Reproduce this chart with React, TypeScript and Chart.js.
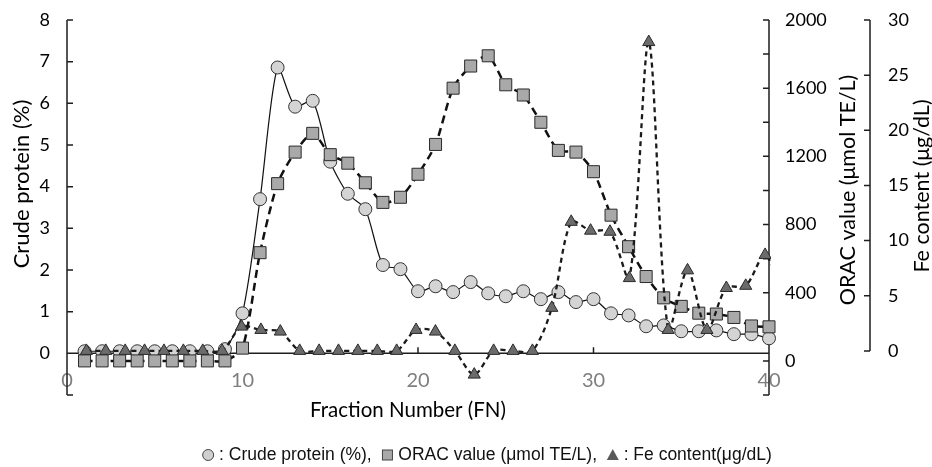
import React, { useEffect, useRef } from 'react';
import { Chart, registerables } from 'chart.js';

Chart.register(...registerables);

// ---------- data ----------
const fractionNumbers = [1, 2, 3, 4, 5, 6, 7, 8, 9, 10, 11, 12, 13, 14, 15, 16, 17, 18, 19, 20,
  21, 22, 23, 24, 25, 26, 27, 28, 29, 30, 31, 32, 33, 34, 35, 36, 37, 38, 39, 40];

const crudeProtein = [0.05, 0.05, 0.05, 0.05, 0.05, 0.05, 0.05, 0.05, 0.1, 0.96,
  3.7, 6.86, 5.92, 6.06, 4.6, 3.83, 3.46, 2.12, 2.02, 1.49,
  1.61, 1.47, 1.71, 1.44, 1.37, 1.49, 1.3, 1.47, 1.23, 1.3,
  0.96, 0.91, 0.65, 0.67, 0.53, 0.53, 0.55, 0.46, 0.46, 0.36];

const oracValue = [0, 0, 0, 0, 0, 0, 0, 0, 0, 75,
  635, 1040, 1225, 1335, 1210, 1160, 1045, 930, 960, 1095,
  1270, 1600, 1730, 1790, 1620, 1560, 1400, 1235, 1225, 1110,
  855, 670, 495, 370, 320, 280, 275, 255, 205, 200];

// Fe series was plotted on its own fraction scale (36 fractions across the same width)
const feFractionNumbers = [1, 2, 3, 4, 5, 6, 7, 8, 9, 10, 11, 12, 13, 14, 15, 16, 17, 18, 19, 20,
  21, 22, 23, 24, 25, 26, 27, 28, 29, 30, 31, 32, 33, 34, 35, 36, 37];

const feContent = [0, 0, 0, 0, 0, 0, 0, 0, 2.2, 1.9,
  1.75, 0, 0, 0, 0, 0, 0, 1.9, 1.75, 0,
  -2.15, 0, 0, 0, 3.9, 11.7, 10.9, 10.8, 6.6, 28.0,
  1.9, 7.3, 1.9, 5.7, 5.9, 8.7, 4.5];

// ---------- ticks / labels ----------
const proteinTicks = [0, 1, 2, 3, 4, 5, 6, 7, 8];
const oracTickLabels = [0, 400, 800, 1200, 1600, 2000];
const oracMinorTicks = [-200, 0, 200, 400, 600, 800, 1000, 1200, 1400, 1600, 1800, 2000];
const feTicks = [0, 5, 10, 15, 20, 25, 30];
const fractionTicks = [0, 10, 20, 30, 40];

const leftTitle = 'Crude protein (%)';
const oracTitle = 'ORAC value (μmol TE/L)';
const feTitle = 'Fe content (μg/dL)';
const xTitle = 'Fraction Number (FN)';
const legendParts = [' : Crude protein (%),  ', ' ORAC value (μmol TE/L),  ', ' : Fe content(μg/dL)'];

const AXIS_FONT = '"Lato", "Open Sans", sans-serif';
const LEGEND_FONT = '"Liberation Sans", Arial, sans-serif';
const AXIS_COLOR = '#1e1e1e';

const decorPlugin = {
  id: 'decor',
  beforeDatasetsDraw(chart: any) {
    const ctx: CanvasRenderingContext2D = chart.ctx;
    const sx = chart.scales.x;
    const sp = chart.scales.yP;
    const so = chart.scales.yO;
    const sf = chart.scales.yF;
    const xl = sx.getPixelForValue(0);
    const xr = sx.getPixelForValue(40);
    const xf = 870;
    const y0 = sp.getPixelForValue(0);

    ctx.save();
    // tick labels
    ctx.textBaseline = 'middle';
    ctx.fillStyle = '#000';
    ctx.font = `18px ${AXIS_FONT}`;
    ctx.textAlign = 'right';
    proteinTicks.forEach((v) => ctx.fillText(String(v), xl - 17, sp.getPixelForValue(v)));
    ctx.textAlign = 'left';
    oracTickLabels.forEach((v) => ctx.fillText(String(v), xr + 16, so.getPixelForValue(v)));
    feTicks.forEach((v) => ctx.fillText(String(v), xf + 18, sf.getPixelForValue(v)));

    ctx.fillStyle = '#7f7f7f';
    ctx.font = `20px ${AXIS_FONT}`;
    ctx.textAlign = 'center';
    fractionTicks.forEach((v) => ctx.fillText(String(v), sx.getPixelForValue(v), y0 + 27));

    // titles
    ctx.fillStyle = '#000';
    ctx.font = `20.5px ${AXIS_FONT}`;
    ctx.fillText(xTitle, 408, 410);
    const rot = (text: string, x: number, y: number) => {
      ctx.save();
      ctx.translate(x, y);
      ctx.rotate(-Math.PI / 2);
      ctx.fillText(text, 0, 0);
      ctx.restore();
    };
    ctx.font = `22px ${AXIS_FONT}`;
    rot(leftTitle, 22, 184);
    ctx.font = `21.5px ${AXIS_FONT}`;
    rot(oracTitle, 848, 190);
    rot(feTitle, 922, 186);

    // axes lines
    ctx.strokeStyle = AXIS_COLOR;
    ctx.lineWidth = 1.5;
    ctx.beginPath();
    // left axis
    ctx.moveTo(xl, sp.getPixelForValue(8));
    ctx.lineTo(xl, sp.getPixelForValue(-1));
    [...proteinTicks, -1].forEach((v) => {
      const y = sp.getPixelForValue(v);
      ctx.moveTo(xl, y);
      ctx.lineTo(xl + 6, y);
    });
    // x axis
    ctx.moveTo(xl, y0);
    ctx.lineTo(xr, y0);
    fractionTicks.slice(1, -1).forEach((v) => {
      const x = sx.getPixelForValue(v);
      ctx.moveTo(x, y0);
      ctx.lineTo(x, y0 - 6);
    });
    // ORAC axis
    ctx.moveTo(xr, so.getPixelForValue(2000));
    ctx.lineTo(xr, so.getPixelForValue(-200));
    oracMinorTicks.forEach((v) => {
      const y = so.getPixelForValue(v);
      ctx.moveTo(xr - 6, y);
      ctx.lineTo(xr, y);
    });
    // Fe axis
    ctx.moveTo(xf, sf.getPixelForValue(30));
    ctx.lineTo(xf, sf.getPixelForValue(0));
    feTicks.forEach((v) => {
      const y = sf.getPixelForValue(v);
      ctx.moveTo(xf - 6, y);
      ctx.lineTo(xf, y);
    });
    ctx.stroke();

    // legend
    ctx.font = `17.5px ${LEGEND_FONT}`;
    ctx.textAlign = 'left';
    ctx.fillStyle = '#111';
    const mark = 12;
    const widths = legendParts.map((t) => ctx.measureText(t).width);
    const total = widths.reduce((a, b) => a + b, 0) + mark * 3;
    let cx = 487 - total / 2;
    const ly = 455;
    ctx.lineWidth = 1;
    ctx.strokeStyle = '#444';
    // circle
    ctx.beginPath();
    ctx.arc(cx + 6, ly, 5.5, 0, Math.PI * 2);
    ctx.fillStyle = '#cfcfcf';
    ctx.fill();
    ctx.stroke();
    cx += mark;
    ctx.fillStyle = '#111';
    ctx.fillText(legendParts[0], cx, ly);
    cx += widths[0];
    // square
    ctx.fillStyle = '#a9a9a9';
    ctx.fillRect(cx + 1, ly - 5, 10, 10);
    ctx.strokeRect(cx + 1, ly - 5, 10, 10);
    cx += mark;
    ctx.fillStyle = '#111';
    ctx.fillText(legendParts[1], cx, ly);
    cx += widths[1];
    // triangle
    ctx.beginPath();
    ctx.moveTo(cx + 6, ly - 6);
    ctx.lineTo(cx + 12, ly + 5);
    ctx.lineTo(cx, ly + 5);
    ctx.closePath();
    ctx.fillStyle = '#5a5a5a';
    ctx.fill();
    cx += mark;
    ctx.fillStyle = '#111';
    ctx.fillText(legendParts[2], cx, ly);

    ctx.restore();
  },
};

export default function App() {
  const ref = useRef<HTMLCanvasElement | null>(null);

  useEffect(() => {
    document.body.style.margin = '0';
    const canvas = ref.current;
    if (!canvas) return;
    const chart = new Chart(canvas, {
      type: 'line',
      data: {
        datasets: [
          {
            label: 'Fe content (μg/dL)',
            data: feFractionNumbers.map((x, i) => ({ x, y: feContent[i] })),
            xAxisID: 'xFe',
            yAxisID: 'yF',
            borderColor: '#1a1a1a',
            borderWidth: 2.3,
            borderDash: [5, 4],
            tension: 0.3,
            pointStyle: 'triangle',
            pointRadius: 7,
            pointBackgroundColor: '#6b6b6b',
            pointBorderColor: '#2a2a2a',
            pointBorderWidth: 1,
            clip: { left: 20, top: 20, right: 2, bottom: 20 },
          } as any,
          {
            label: 'ORAC value (μmol TE/L)',
            data: fractionNumbers.map((x, i) => ({ x, y: oracValue[i] })),
            xAxisID: 'x',
            yAxisID: 'yO',
            borderColor: '#111',
            borderWidth: 2.5,
            borderDash: [8, 5],
            tension: 0.25,
            pointStyle: 'rect',
            pointRadius: 8.5,
            pointBackgroundColor: '#a9a9a9',
            pointBorderColor: '#2a2a2a',
            pointBorderWidth: 1,
            clip: false,
          } as any,
          {
            label: 'Crude protein (%)',
            data: fractionNumbers.map((x, i) => ({ x, y: crudeProtein[i] })),
            xAxisID: 'x',
            yAxisID: 'yP',
            borderColor: '#111',
            borderWidth: 1.2,
            tension: 0.25,
            pointStyle: 'circle',
            pointRadius: 6.5,
            pointBackgroundColor: '#d4d4d4',
            pointBorderColor: '#333',
            pointBorderWidth: 1,
            clip: false,
          } as any,
        ],
      },
      options: {
        animation: false,
        responsive: false,
        devicePixelRatio: 1,
        events: [],
        layout: { padding: { left: 67, right: 163, top: 20, bottom: 72 } },
        plugins: { legend: { display: false }, tooltip: { enabled: false }, title: { display: false } },
        scales: {
          x: { type: 'linear', min: 0, max: 40, display: false },
          xFe: { type: 'linear', min: 0, max: 36.2, display: false },
          yP: { type: 'linear', min: -1, max: 8, display: false },
          yO: { type: 'linear', min: -200, max: 2000, display: false },
          yF: { type: 'linear', min: -4, max: 30, display: false },
        },
      },
      plugins: [decorPlugin],
    });
    return () => chart.destroy();
  }, []);

  return (
    <div style={{ width: 932, height: 467, background: '#fff' }}>
      <canvas ref={ref} width={932} height={467} style={{ display: 'block' }} />
    </div>
  );
}
